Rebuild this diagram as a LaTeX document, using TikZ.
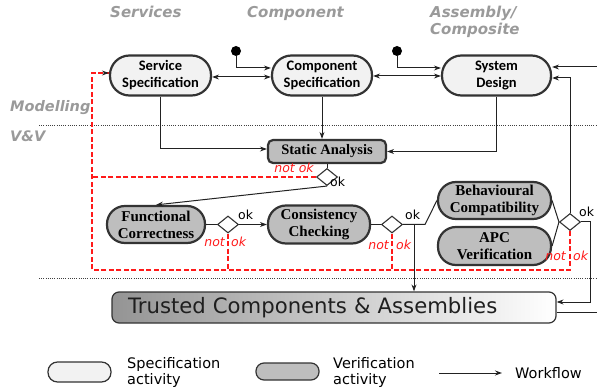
\documentclass[tikz,border=0pt]{standalone}
\usepackage{fontspec}
\setmainfont{Liberation Serif}
\newfontfamily\calfont{Carlito}
\newfontfamily\dvfont{DejaVu Sans}
\usetikzlibrary{shapes.geometric,arrows.meta}

\definecolor{specfill}{HTML}{F2F2F2}
\definecolor{verfill}{HTML}{BEBEBE}
\definecolor{edge}{HTML}{333333}
\definecolor{titlegray}{HTML}{9A9A9A}
\definecolor{failred}{HTML}{FF1A1A}
\definecolor{wire}{HTML}{222222}

\tikzset{
  spec/.style={draw=edge, line width=2.2pt, fill=specfill, rounded corners=19.5pt,
    minimum height=40pt, align=center, inner sep=0pt,
    font=\calfont\bfseries\fontsize{14.5}{17}\selectfont},
  verif/.style={draw=edge, line width=2.2pt, fill=verfill, rounded corners=18pt,
    minimum height=37pt, align=center, inner sep=0pt,
    font=\bfseries\fontsize{15}{17}\selectfont},
  decision/.style={draw=edge, line width=1.1pt, fill=white, diamond,
    minimum width=21pt, minimum height=17pt, inner sep=0pt},
  flow/.style={draw=wire, line width=1pt, -{Stealth[length=7pt,width=5pt]}},
  plain/.style={draw=wire, line width=1pt},
  fail/.style={draw=failred, line width=1.1pt, dash pattern=on 5pt off 2.5pt},
  oklab/.style={font=\dvfont\fontsize{12.5}{14}\selectfont, inner sep=0pt},
  notoklab/.style={font=\dvfont\itshape\fontsize{12.5}{14}\selectfont, text=failred, inner sep=0pt},
  lanetitle/.style={font=\dvfont\bfseries\itshape\fontsize{15}{16}\selectfont,
    text=titlegray, inner sep=0pt, anchor=base west},
  lanesep/.style={draw=black!75, line width=0.8pt, dash pattern=on 0.8pt off 1.4pt},
  legtext/.style={font=\dvfont\fontsize{14.5}{16}\selectfont, inner sep=0pt,
    align=left, anchor=base west},
}

\begin{document}
\begin{tikzpicture}[x=1pt, y=-1pt]
\useasboundingbox (0,0) rectangle (597,390);

% swim-lane titles and separators
\node[lanetitle] (tServ) at (110,18) {Services};
\node[lanetitle] (tComp) at (247,18) {Component};
\node[lanetitle] (tAsm)  at (430,18) {Assembly/};
\node[lanetitle] (tCmp)  at (430,35) {Composite};
\node[lanetitle, font=\dvfont\bfseries\itshape\fontsize{14.5}{16}\selectfont] (tMod) at (10,112) {Modelling};
\node[lanetitle, font=\dvfont\bfseries\itshape\fontsize{14.5}{16}\selectfont] (tVV)  at (10,142) {V\&V};
\coordinate (sepAl) at (39,125);  \coordinate (sepAr) at (597,125);
\coordinate (sepBl) at (39,278);  \coordinate (sepBr) at (597,278);
\draw[lanesep] (sepAl) -- (sepAr);
\draw[lanesep] (sepBl) -- (sepBr);

% specification activities
\node[spec, minimum width=101pt] (ss) at (160.5,75.5) {Service\\Specification};
\node[spec, minimum width=100pt] (cs) at (322,75.5) {Component\\Specification};
\node[spec, minimum width=109pt] (sd) at (496.5,75.5) {System\\Design};

% start points
\node[circle, fill=black, minimum size=10pt, inner sep=0pt] (i1) at (236,51) {};
\node[circle, fill=black, minimum size=10pt, inner sep=0pt] (i2) at (397,51) {};

% verification activities
\node[verif, rounded corners=5pt, minimum width=118pt, minimum height=23pt,
      font=\bfseries\fontsize{14.5}{17}\selectfont] (sa) at (327,151.5) {Static Analysis};
\node[decision] (d1) at (327,177) {};
\node[verif, minimum width=98pt] (fc) at (156,224.5) {Functional\\Correctness};
\node[decision] (d2) at (228,224.5) {};
\node[verif, minimum width=102pt, minimum height=38pt] (cc) at (319,224.5) {Consistency\\Checking};
\node[decision] (d3) at (392,224.5) {};
\node[verif, minimum width=113pt] (bc) at (494.5,200.5) {Behavioural\\Compatibility};
\node[verif, minimum width=113pt, minimum height=38pt] (apc) at (494.5,246) {APC\\Verification};
\node[decision] (d4) at (570,222) {};

% result
\node[draw=edge, line width=1.2pt, rounded corners=7pt, left color=black!42, right color=white,
      minimum width=444pt, minimum height=31pt, inner sep=0pt, text width=412pt, align=left,
      text=black!88, font=\dvfont\fontsize{21.2}{24}\selectfont] (tca) at (334,307.5)
      {Trusted Components \& Assemblies};

% modelling workflow
\draw[flow] (i1) |- (cs.west |- 0,68);
\draw[flow] (i2) |- (sd.west |- 0,68);
\draw[plain, {Stealth[length=7pt,width=5pt]}-{Stealth[length=7pt,width=5pt]}] (ss.east |- 0,77) -- (cs.west |- 0,77);
\draw[plain, {Stealth[length=7pt,width=5pt]}-{Stealth[length=7pt,width=5pt]}] (cs.east |- 0,76) -- (sd.west |- 0,76);
\coordinate (inR) at (597,67);
\draw[flow] (inR) -- (sd.east |- inR);

% into static analysis
\draw[flow] (ss.south) |- (sa.west |- 0,149);
\draw[flow] (cs.south) -- (cs.south |- sa.north);
\draw[flow] (sd.south) |- (sa.east);

% verification chain
\draw[plain] (sa.south) -- (d1.north);
\draw[flow] (d1.south) -- (fc.north);
\draw[plain] (fc.east) -- (d2.west);
\draw[flow] (d2.east) -- (cc.west);
\draw[plain] (cc.east) -- (d3.west);
\coordinate (fork) at (414,224.5);
\coordinate (bend) at (425,224.5);
\draw[plain] (d3.east) -- (bend) -- (bc.west);
\draw[flow] (fork) -- (fork |- tca.north);
\draw[plain] (bc.east) -- (d4.west);
\draw[plain] (apc.east) -- (d4.west);
\draw[flow] (d4.north) |- (sd.east |- 0,78);
\coordinate (okR) at (590,222);
\draw[flow] (d4.east) -- (okR) |- (tca.east |- 0,302);
\coordinate (outR) at (597,312);
\draw[plain] (tca.east |- outR) -- (outR);

% failure loops
\coordinate (rTop) at (92,73);
\coordinate (rMid) at (92,177);
\coordinate (rBot) at (92,270);
\draw[fail] (d1.west) -- (rMid);
\draw[fail] (d2.south) -- (d2 |- rBot);
\draw[fail] (d3.south) -- (d3 |- rBot);
\draw[fail] (d4.south) -- (d4 |- rBot) -- (rBot) -- (rTop) -- (ss.west |- rTop);
\draw[flow] ([xshift=-2pt]ss.west |- rTop) -- (ss.west |- rTop);

% decision labels
\node[oklab, anchor=base west] (ok1) at (330,187) {ok};
\node[notoklab, anchor=base] (no1) at (294,173) {not ok};
\node[oklab, anchor=base west] (ok2) at (238,219) {ok};
\node[notoklab, anchor=base east] (no2a) at (225,247) {not};
\node[notoklab, anchor=base west] (no2b) at (231,247) {ok};
\node[oklab, anchor=base west] (ok3) at (405,219) {ok};
\node[notoklab, anchor=base east] (no3a) at (389,249) {not};
\node[notoklab, anchor=base west] (no3b) at (396,249) {ok};
\node[oklab, anchor=base west] (ok4) at (579,217) {ok};
\node[notoklab, anchor=base east] (no4a) at (566,261) {not};
\node[notoklab, anchor=base west] (no4b) at (573,261) {ok};

% legend
\node[draw=edge, line width=1.2pt, fill=specfill, rounded corners=9.5pt,
      minimum width=63pt, minimum height=20pt, inner sep=0pt] (lg1) at (79.5,372) {};
\node[legtext] (lt1) at (127,384) {Specification\\activity};
\node[draw=edge, line width=1.2pt, fill=verfill, rounded corners=8pt,
      minimum width=63pt, minimum height=17pt, inner sep=0pt] (lg2) at (287.5,371.5) {};
\node[legtext] (lt2) at (333,384) {Verification\\activity};
\coordinate (wfA) at (439,373);
\coordinate (wfB) at (502,373);
\draw[flow] (wfA) -- (wfB);
\node[legtext] (lt3) at (515,378) {Workflow};
\end{tikzpicture}
\end{document}
